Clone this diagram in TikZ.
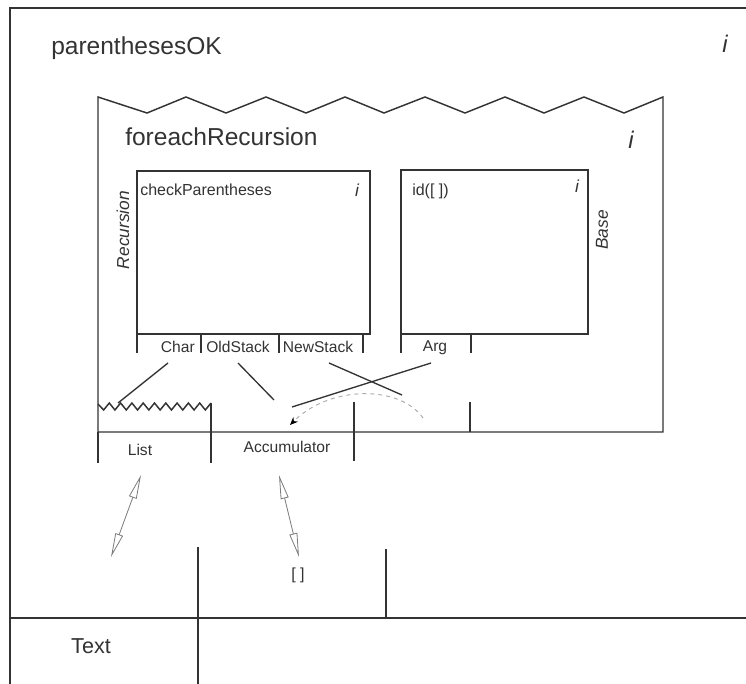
\documentclass[tikz,border=0pt]{standalone}
\usepackage{fontspec}
\setmainfont{Liberation Sans}
\usetikzlibrary{arrows.meta}
\definecolor{ink}{HTML}{333333}
\definecolor{arrowgray}{HTML}{7A7A7A}
\definecolor{dashgray}{HTML}{AAAAAA}
\begin{document}
\begin{tikzpicture}[x=0.75pt,y=-0.75pt,
  ln/.style={draw=ink,line width=1.1pt},
  conn/.style={draw=ink,line width=1pt},
  lbl/.style={inner sep=0pt,text=ink},
  big/.style={lbl,font=\fontsize{18.4}{20}\selectfont},
  mid/.style={lbl,font=\fontsize{12}{14}\selectfont},
  port/.style={lbl,font=\fontsize{11.7}{13}\selectfont},
  side/.style={lbl,font=\fontsize{13}{15}\selectfont\itshape,rotate=90},
  bigi/.style={lbl,font=\fontsize{18}{20}\selectfont\itshape},
  midi/.style={lbl,font=\fontsize{13}{15}\selectfont\itshape},
  dbl/.style={draw=arrowgray,line width=0.6pt,
    {Triangle[open,length=18pt,width=6pt]}-{Triangle[open,length=18pt,width=6pt]}},
  flow/.style={draw=dashgray,line width=0.7pt,dashed,-{Stealth[length=6pt,width=5pt,color=black]}}]
\path[use as bounding box] (0,0) rectangle (746,684);

% outer frame
\draw[ln] (746,8) -- (10,8) -- (10,684);
\draw[ln] (10,618) -- (746,618);
\draw[ln] (198,547) -- (198,684);
\draw[ln] (386,549) -- (386,618);
\node[big,anchor=west] (pok) at (51,48) {parenthesesOK};
\node[bigi] (pokI) at (725,44) {i};
\node[lbl,font=\fontsize{16.2}{18}\selectfont] (txt) at (91,646) {Text};

% foreachRecursion box
\draw[ln] (98,432) -- (98,97) -- (147,113) -- (186,97) -- (226,113) -- (266,97) -- (306,113)
  -- (345,97) -- (384,113) -- (425,97) -- (465,113) -- (505,97) -- (544,113) -- (584,97)
  -- (624,113) -- (663,97) -- (663,432) -- cycle;
\draw[ln] (98,432) -- (98,463);
\node[big,anchor=west] (fer) at (125,137) {foreachRecursion};
\node[bigi] (ferI) at (631,140) {i};

% List / Accumulator ports
\draw[ln] (98,404) \foreach \k in {0,...,9} { -- ({98+11.3*\k+5.65},410) -- ({98+11.3*(\k+1)},403) };
\draw[ln] (211,403) -- (211,463);
\draw[ln] (354,402) -- (354,461);
\draw[ln] (470,402) -- (470,432);
\node[port] (list) at (140,450) {List};
\node[port] (acc) at (287,447) {Accumulator};

% checkParentheses
\draw[ln] (137,171) rectangle (370,334);
\draw[ln] (137,334) -- (137,353) (201,334) -- (201,353) (279,334) -- (279,353) (363,334) -- (363,353);
\node[mid,anchor=west] (cp) at (140,190) {checkParentheses};
\node[midi] (cpI) at (357,190) {i};
\node[side] (rec) at (123,230) {Recursion};
\node[port,anchor=east] (char) at (195,347) {Char};
\node[port] (old) at (238,347) {OldStack};
\node[port] (new) at (318,347) {NewStack};

% id([ ])
\draw[ln] (401,170) rectangle (588,334);
\draw[ln] (401,334) -- (401,353) (471,334) -- (471,353);
\node[mid,anchor=west] (idn) at (412,191) {id([ ])};
\node[midi] (idI) at (577,186) {i};
\node[side] (base) at (602,230) {Base};
\node[port] (arg) at (435,348) {Arg};

% connectors
\coordinate (charS) at (168,363);  \coordinate (charE) at (118,403);
\coordinate (oldS) at (238,363);   \coordinate (oldE) at (274,400);
\coordinate (newS) at (329,363);   \coordinate (newE) at (402,395);
\coordinate (argS) at (431,363);   \coordinate (argE) at (292,407);
\coordinate (flS) at (423,418);    \coordinate (flE) at (290,425);
\draw[conn] (charS) -- (charE);
\draw[conn] (oldS) -- (oldE);
\draw[conn] (newS) -- (newE);
\draw[conn] (argS) -- (argE);
\draw[flow] (flS) .. controls (400,385) and (330,385) .. (flE);

% bottom double arrows
\coordinate (lA) at (141,475); \coordinate (lB) at (111,557);
\coordinate (aA) at (279,475); \coordinate (aB) at (299,557);
\draw[dbl] (lA) -- (lB);
\draw[dbl] (aA) -- (aB);
\node[mid] (empty) at (298,575) {[ ]};
\end{tikzpicture}
\end{document}
